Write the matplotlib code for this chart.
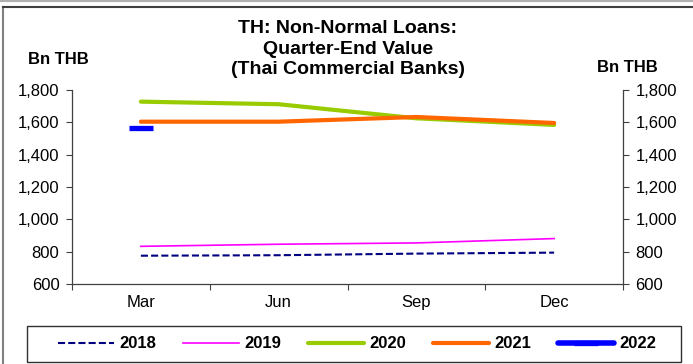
import matplotlib
matplotlib.use("Agg")
import matplotlib.pyplot as plt
from matplotlib.lines import Line2D
from matplotlib.patches import Rectangle
import numpy as np

plt.rcParams['font.family'] = ['Liberation Sans', 'DejaVu Sans']

quarters = ["Mar", "Jun", "Sep", "Dec"]
s2018 = [775, 778, 788, 794]
s2019 = [833, 846, 854, 881]
s2020 = [1728, 1712, 1625, 1584]
s2021 = [1604, 1604, 1633, 1596]
s2022 = [1567]
yticks = [600, 800, 1000, 1200, 1400, 1600, 1800]

W, H = 693, 364
fig = plt.figure(figsize=(W / 100, H / 100), dpi=100)
# outer frame (top and left edges)
fig.add_artist(Line2D([3 / W, 3 / W], [0, 1 - 7 / H], transform=fig.transFigure,
                      color="#808080", lw=1.5))
fig.add_artist(Line2D([3 / W, 1], [1 - 7 / H, 1 - 7 / H], transform=fig.transFigure,
                      color="#404040", lw=1.5))
fig.add_artist(Line2D([0, 1], [1 - 0.8 / H, 1 - 0.8 / H], transform=fig.transFigure,
                      color="#b0b0b0", lw=1.5))

ax = fig.add_axes([72 / W, 1 - 284 / H, 551 / W, 194 / H])
x = np.arange(len(quarters))
ax.plot(x, s2018, color="#000080", lw=1.5, ls=(0, (3.4, 1.5)), label="2018")
ax.plot(x, s2019, color="#FF00FF", lw=1.2, label="2019")
ax.plot(x, s2020, color="#99CC00", lw=3.0, label="2020", solid_capstyle="round")
ax.plot(x, s2021, color="#FF6600", lw=3.0, label="2021", solid_capstyle="round")
ax.plot(x[:len(s2022)], s2022, color="#0000FF", lw=4.0, marker="_", markersize=17,
        markeredgewidth=3.8, label="2022", solid_capstyle="round")

ax.set_xlim(-0.5, 3.5)
ax.set_ylim(600, 1800)
ax.set_yticks(yticks)
ax.set_yticklabels([f"{v:,}" for v in yticks], fontsize=12)
ax.set_xticks(np.arange(-0.5, 4.0, 1.0))
ax.set_xticklabels([])
ax.set_xticks(x, minor=True)
ax.set_xticklabels(quarters, minor=True, fontsize=12)
ax.tick_params(axis="x", which="minor", length=0, pad=8)
ax.tick_params(axis="x", which="major", length=4, direction="out", color="#404040")
ax.tick_params(axis="y", which="major", length=4, direction="out", right=True,
               labelright=True, pad=5, color="#404040")
ax.spines["top"].set_visible(False)
for side in ["left", "right", "bottom"]:
    ax.spines[side].set_linewidth(0.9)
    ax.spines[side].set_color("#404040")

fig.text(348 / W, 1 - 49 / H, "TH: Non-Normal Loans:\nQuarter-End Value\n(Thai Commercial Banks)",
         ha="center", va="center", fontsize=14, fontweight="bold", linespacing=1.27)
fig.text(58 / W, 1 - 59 / H, "Bn THB", ha="center", va="center", fontsize=12, fontweight="bold")
fig.text(627 / W, 1 - 68 / H, "Bn THB", ha="center", va="center", fontsize=12, fontweight="bold")

# legend box
fig.add_artist(Rectangle((27 / W, 1 - 362 / H), 654 / W, 36 / H, transform=fig.transFigure,
                         fill=False, edgecolor="#303030", lw=1.0))
leg = fig.legend(loc="center", bbox_to_anchor=(357 / W, 1 - 344 / H),
                 ncol=5, frameon=False, handlelength=3.35,
                 prop={"weight": "bold", "size": 12}, borderaxespad=0, handletextpad=0.35,
                 columnspacing=1.59, borderpad=0.0)

fig.savefig("out.png", dpi=100)
